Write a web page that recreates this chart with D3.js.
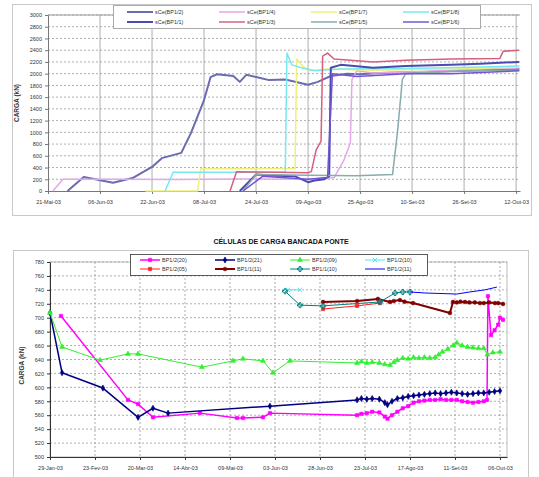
<!DOCTYPE html>
<html><head><meta charset="utf-8">
<script src="https://cdn.jsdelivr.net/npm/d3@7"></script>
<style>
body{margin:0;background:#fff}
svg{display:block}
text{font-family:"Liberation Sans",Arial,sans-serif}
</style>
</head><body>
<svg id="c" width="539" height="477"></svg>
<script>
// ---------------- DATA : chart 1 (days since 21-Mai-03, load in kN) ----------------
const topXTicks = [0,16,32,48,64,80,96,112,128,144];
const topXLabels = ["21-Mai-03","06-Jun-03","22-Jun-03","08-Jul-03","24-Jul-03","09-Ago-03","25-Ago-03","10-Set-03","26-Set-03","12-Out-03"];
const topYTicks = [0,200,400,600,800,1000,1200,1400,1600,1800,2000,2200,2400,2600,2800,3000];
const topNames = ["sCe(BP1/2)","sCe(BP1/4)","sCe(BP1/7)","sCe(BP1/8)","sCe(BP1/1)","sCe(BP1/3)","sCe(BP1/5)","sCe(BP1/6)"];
const topColors = ["#6b6bb0","#e6a6ea","#eef07a","#78e8f0","#4a4ab0","#d4607e","#88acac","#7454d4"];
const topA = [[6,0],[11,240],[20,140],[26,220],[32,410],[35,560],[41,650],[44,990],[48,1550],[50,1940],[52,1990],[57,1960],[59,1860],[61,1980],[65,1930],[68,1890],[73,1900],[80,1810],[83,1860],[87,1960],[92,2000],[96,1990],[102,2010],[108,2020],[116,2030],[124,2040],[133,2060],[140,2070],[145,2080]];
const topB = [[1.5,0],[4.6,200],[20,200],[40,195],[60,205],[80,200],[88,230],[91,520],[93,820],[93.5,1900],[95,2050],[100,2010],[110,2030],[124,2060],[133,2080],[145,2100]];
const topC = [[30,0],[46,0],[47,380],[60,380],[76,385],[76.5,2250],[78,2150],[80,2050],[86,2080],[100,2060],[124,2080],[145,2110]];
const topD = [[36,0],[38.5,320],[55,320],[73,320],[73.5,2350],[75,2150],[78,2100],[82,2050],[90,2080],[110,2090],[130,2110],[145,2130]];
const topE = [[59,0],[64,280],[70,260],[76,250],[80,150],[82,180],[85,200],[86.5,250],[87,2100],[90,2150],[100,2100],[110,2130],[124,2150],[133,2170],[145,2200]];
const topF = [[56,0],[58,330],[70,320],[80,310],[81,330],[82.5,700],[84,850],[84.5,2300],[86,2350],[88,2250],[100,2200],[110,2230],[124,2250],[139,2260],[140,2380],[145,2400]];
const topG = [[60,0],[64,280],[80,270],[95,260],[106,280],[107.5,1000],[109,1900],[110,2000],[124,2040],[145,2060]];
const topH = [[60,0],[66,250],[80,200],[86,230],[87.5,2000],[95,1950],[110,2000],[124,2000],[145,2050]];
const topSeries = [topA,topB,topC,topD,topE,topF,topG,topH];
const topWidths = [2,1.5,1.5,1.5,2,1.5,1.5,1.5];

// ---------------- DATA : chart 2 (days since 29-Jan-03, load in kN) ----------------
const botTitle = "CÉLULAS DE CARGA BANCADA PONTE";
const botXTicks = [0,25,50,75,100,125,150,175,200,225,250];
const botXLabels = ["29-Jan-03","23-Fev-03","20-Mar-03","14-Abr-03","09-Mai-03","03-Jun-03","28-Jun-03","23-Jul-03","17-Ago-03","11-Set-03","06-Out-03"];
const botYTicks = [500,520,540,560,580,600,620,640,660,680,700,720,740,760,780];
const botNames = ["BP1/2(20)","BP1/2(21)","BP1/2(09)","BP1/2(10)","BP1/2(05)","BP1/1(11)","BP1/1(10)","BP1/2(11)"];
const botColors = ["#ff00ff","#000080","#33ee33","#55e5f0","#ff2020","#800000","#008080","#0000ff"];
const botMarkers = ["square","diamond","triangle","cross","square","circle","plus","none"];
const botMag = [[6.1,702.5],[43.3,582],[48.9,576],[57.2,557],[83.3,563],[103.9,556],[107.2,556],[118.3,557],[122.2,563],[170.6,560],[173,562],[176,563],[179,565],[183,564],[186,558],[187.5,555],[190,560],[193,565],[196,570],[199,573],[202,578],[205,580],[208,581],[211,582],[214,582],[217,583],[220,582],[223,582],[226,582],[229,580],[232,579],[235,578],[238,579],[241,580],[242.8,582],[243.3,731],[245,675],[247,682],[249,690],[250,700],[251.7,697]];
const botNavy = [[0,707],[6.7,621],[29.4,599],[48.9,557],[57.2,570],[65.6,563],[122.2,573],[170.6,582],[173,584],[176,583],[179,584],[183,583],[186,578],[187.5,575],[190,580],[193,584],[196,585],[199,587],[202,588],[205,589],[208,590],[211,591],[214,592],[217,591],[220,592],[223,593],[226,592],[229,591],[232,590],[235,591],[238,592],[241,592],[244,593],[247,594],[250,595]];
const botGreen = [[0,707],[6.7,658],[27.8,639],[43.3,648],[48.9,648],[84.4,629],[101.7,638],[107.2,641],[118.3,638],[123.9,621],[133.3,638],[170.6,635],[173,637],[176,635],[179,636],[183,635],[186,633],[188.9,632],[191,636],[193,639],[196,642],[199,641],[202,643],[205,642],[208,643],[211,642],[214,643],[216,647],[218,651],[221,655],[224,660],[226,664],[229,660],[232,658],[235,657],[238,656],[241,656],[243,647],[246,650],[250,651]];
const botCyan = [[132.2,740],[138.9,740]];
const botRed = [[151.7,712.5],[170.6,717],[183.3,721]];
const botDarkRed = [[151.7,722.6],[170.6,724],[182.2,727],[188.9,722.6],[191,724],[194.4,725.4],[197,723],[201.7,721],[222.2,706.8],[223.9,722.6],[226,722],[228,723],[230.6,722.6],[233,722],[236,722],[238.9,721],[241,721],[244,722],[247.2,721],[249,721],[251.7,719.7]];
const botTeal = [[130.6,738],[138.9,718],[151.7,717],[183.3,722.6],[191.7,735.5],[196,737],[200,737]];
const botBlue = [[200,737],[208.3,735.5],[226,734],[233.3,737],[241.7,740],[248.3,744]];
const botSeries = [botMag,botNavy,botGreen,botCyan,botRed,botDarkRed,botTeal,botBlue];
const botWidths = [1.5,1.5,1,1,1,2,1,1];

// ---------------- DRAW ----------------
const svg = d3.select("#c");
const intFmt = d3.format("d");

// ===== Chart 1 =====
const p1 = {l:48, r:520, t:15, b:191};
const x1 = d3.scaleLinear().domain([0,145.2]).range([p1.l,p1.r]);
const y1 = d3.scaleLinear().domain([0,3000]).range([p1.b,p1.t]);

svg.append("rect").attr("x",12.5).attr("y",4.5).attr("width",519).attr("height",211)
  .attr("fill","none").attr("stroke","#c8c8c8");

const g1 = svg.append("g");
g1.selectAll("line.hg").data(topYTicks.slice(1)).join("line")
  .attr("x1",p1.l).attr("x2",p1.r).attr("y1",d=>y1(d)).attr("y2",d=>y1(d))
  .attr("stroke","#999").attr("stroke-dasharray","2,2").attr("stroke-width",0.8);
g1.selectAll("line.vg").data(topXTicks.slice(1)).join("line")
  .attr("x1",d=>x1(d)).attr("x2",d=>x1(d)).attr("y1",p1.t).attr("y2",p1.b)
  .attr("stroke","#999").attr("stroke-width",0.8);
g1.append("line").attr("x1",p1.l).attr("x2",p1.r).attr("y1",p1.t).attr("y2",p1.t).attr("stroke","#999");

const ax1 = g1.append("g").attr("transform",`translate(0,${p1.b})`)
  .call(d3.axisBottom(x1).tickValues(topXTicks).tickFormat((d,i)=>topXLabels[i]).tickSize(3).tickSizeOuter(0));
const ay1 = g1.append("g").attr("transform",`translate(${p1.l},0)`)
  .call(d3.axisLeft(y1).tickValues(topYTicks).tickFormat(intFmt).tickSize(3).tickSizeOuter(0));
[ax1,ay1].forEach(a=>{
  a.selectAll("path,line").attr("stroke","#777");
  a.selectAll("text").attr("fill","#333").style("font-size","5.5px");
});
ax1.selectAll("text").attr("dy","1.3em");

g1.append("text").attr("transform",`translate(19,${(p1.t+p1.b)/2}) rotate(-90)`)
  .attr("text-anchor","middle").style("font-size","6.5px").style("font-weight","bold")
  .attr("fill","#333").text("CARGA  (kN)");

const line1 = d3.line().x(d=>x1(d[0])).y(d=>y1(d[1]));
topSeries.forEach((s,i)=>{
  g1.append("path").datum(s).attr("d",line1).attr("fill","none")
    .attr("stroke",topColors[i]).attr("stroke-width",topWidths[i]).attr("stroke-linejoin","round");
});

// legend 1
const lg1 = svg.append("g");
lg1.append("rect").attr("x",113.5).attr("y",5.5).attr("width",367).attr("height",23)
  .attr("fill","#fff").attr("stroke","#aaa");
topNames.forEach((n,i)=>{
  const col=i%4,row=Math.floor(i/4);
  const lx=127+col*92, ly=12+row*10;
  lg1.append("line").attr("x1",lx).attr("x2",lx+26).attr("y1",ly).attr("y2",ly)
    .attr("stroke",topColors[i]).attr("stroke-width",topWidths[i]);
  lg1.append("text").attr("x",lx+28).attr("y",ly+2).style("font-size","5.5px").attr("fill","#333").text(n);
});

// ===== Chart 2 =====
const p2 = {l:50, r:507, t:262, b:457};
const x2 = d3.scaleLinear().domain([0,253.9]).range([p2.l,p2.r]);
const y2 = d3.scaleLinear().domain([500,780]).range([p2.b,p2.t]);

svg.append("text").attr("x",281).attr("y",244).attr("text-anchor","middle")
  .style("font-size","7px").style("font-weight","bold").attr("fill","#111").text(botTitle);
svg.append("rect").attr("x",13.5).attr("y",250.5).attr("width",515).attr("height",230)
  .attr("fill","none").attr("stroke","#c8c8c8");

const g2 = svg.append("g");
g2.selectAll("line.hg").data(botYTicks.slice(1)).join("line")
  .attr("x1",p2.l).attr("x2",p2.r).attr("y1",d=>y2(d)).attr("y2",d=>y2(d))
  .attr("stroke","#999").attr("stroke-dasharray","2,2").attr("stroke-width",0.8);
g2.selectAll("line.vg").data(botXTicks.slice(1)).join("line")
  .attr("x1",d=>x2(d)).attr("x2",d=>x2(d)).attr("y1",p2.t).attr("y2",p2.b)
  .attr("stroke","#999").attr("stroke-dasharray","2,2").attr("stroke-width",0.8);
g2.append("rect").attr("x",p2.l).attr("y",p2.t).attr("width",p2.r-p2.l).attr("height",p2.b-p2.t)
  .attr("fill","none").attr("stroke","#aaa").attr("stroke-width",0.8);

const ax2 = g2.append("g").attr("transform",`translate(0,${p2.b})`)
  .call(d3.axisBottom(x2).tickValues(botXTicks).tickFormat((d,i)=>botXLabels[i]).tickSize(3).tickSizeOuter(0));
const ay2 = g2.append("g").attr("transform",`translate(${p2.l},0)`)
  .call(d3.axisLeft(y2).tickValues(botYTicks).tickFormat(intFmt).tickSize(3).tickSizeOuter(0));
[ax2,ay2].forEach(a=>{
  a.selectAll("path,line").attr("stroke","#333");
  a.selectAll("text").attr("fill","#333").style("font-size","5.5px");
});
ax2.selectAll("text").attr("dy","1.2em");

g2.append("text").attr("transform",`translate(24,${(p2.t+p2.b)/2+6}) rotate(-90)`)
  .attr("text-anchor","middle").style("font-size","6.5px").style("font-weight","bold")
  .attr("fill","#333").text("CARGA  (kN)");

const line2 = d3.line().x(d=>x2(d[0])).y(d=>y2(d[1]));
const symMap = {square:d3.symbolSquare, diamond:d3.symbolDiamond, triangle:d3.symbolTriangle,
  cross:d3.symbolX, circle:d3.symbolCircle, plus:d3.symbolCross};
function drawMarker(g, type, color, cx, cy){
  if(type==="none") return;
  const sym = d3.symbol().type(symMap[type]).size(type==="cross"||type==="plus"?14:11);
  const strokeOnly = (type==="cross"||type==="plus");
  g.append("path").attr("d",sym).attr("transform",`translate(${cx},${cy})`)
    .attr("fill",strokeOnly?"none":color).attr("stroke",color).attr("stroke-width",strokeOnly?1:0.6);
}
botSeries.forEach((s,i)=>{
  g2.append("path").datum(s).attr("d",line2).attr("fill","none")
    .attr("stroke",botColors[i]).attr("stroke-width",botWidths[i]).attr("stroke-linejoin","round");
  const mg = g2.append("g");
  s.forEach(d=>drawMarker(mg, botMarkers[i], botColors[i], x2(d[0]), y2(d[1])));
});

// legend 2
const lg2 = svg.append("g");
lg2.append("rect").attr("x",130.5).attr("y",254.5).attr("width",297).attr("height",21)
  .attr("fill","#fff").attr("stroke","#333").attr("stroke-width",0.8);
botNames.forEach((n,i)=>{
  const col=i%4,row=Math.floor(i/4);
  const lx=140+col*75, ly=260+row*9;
  lg2.append("line").attr("x1",lx).attr("x2",lx+20).attr("y1",ly).attr("y2",ly)
    .attr("stroke",botColors[i]).attr("stroke-width",botWidths[i]);
  drawMarker(lg2, botMarkers[i], botColors[i], lx+10, ly);
  lg2.append("text").attr("x",lx+22).attr("y",ly+2).style("font-size","5.5px").attr("fill","#333").text(n);
});
</script>
</body></html>
